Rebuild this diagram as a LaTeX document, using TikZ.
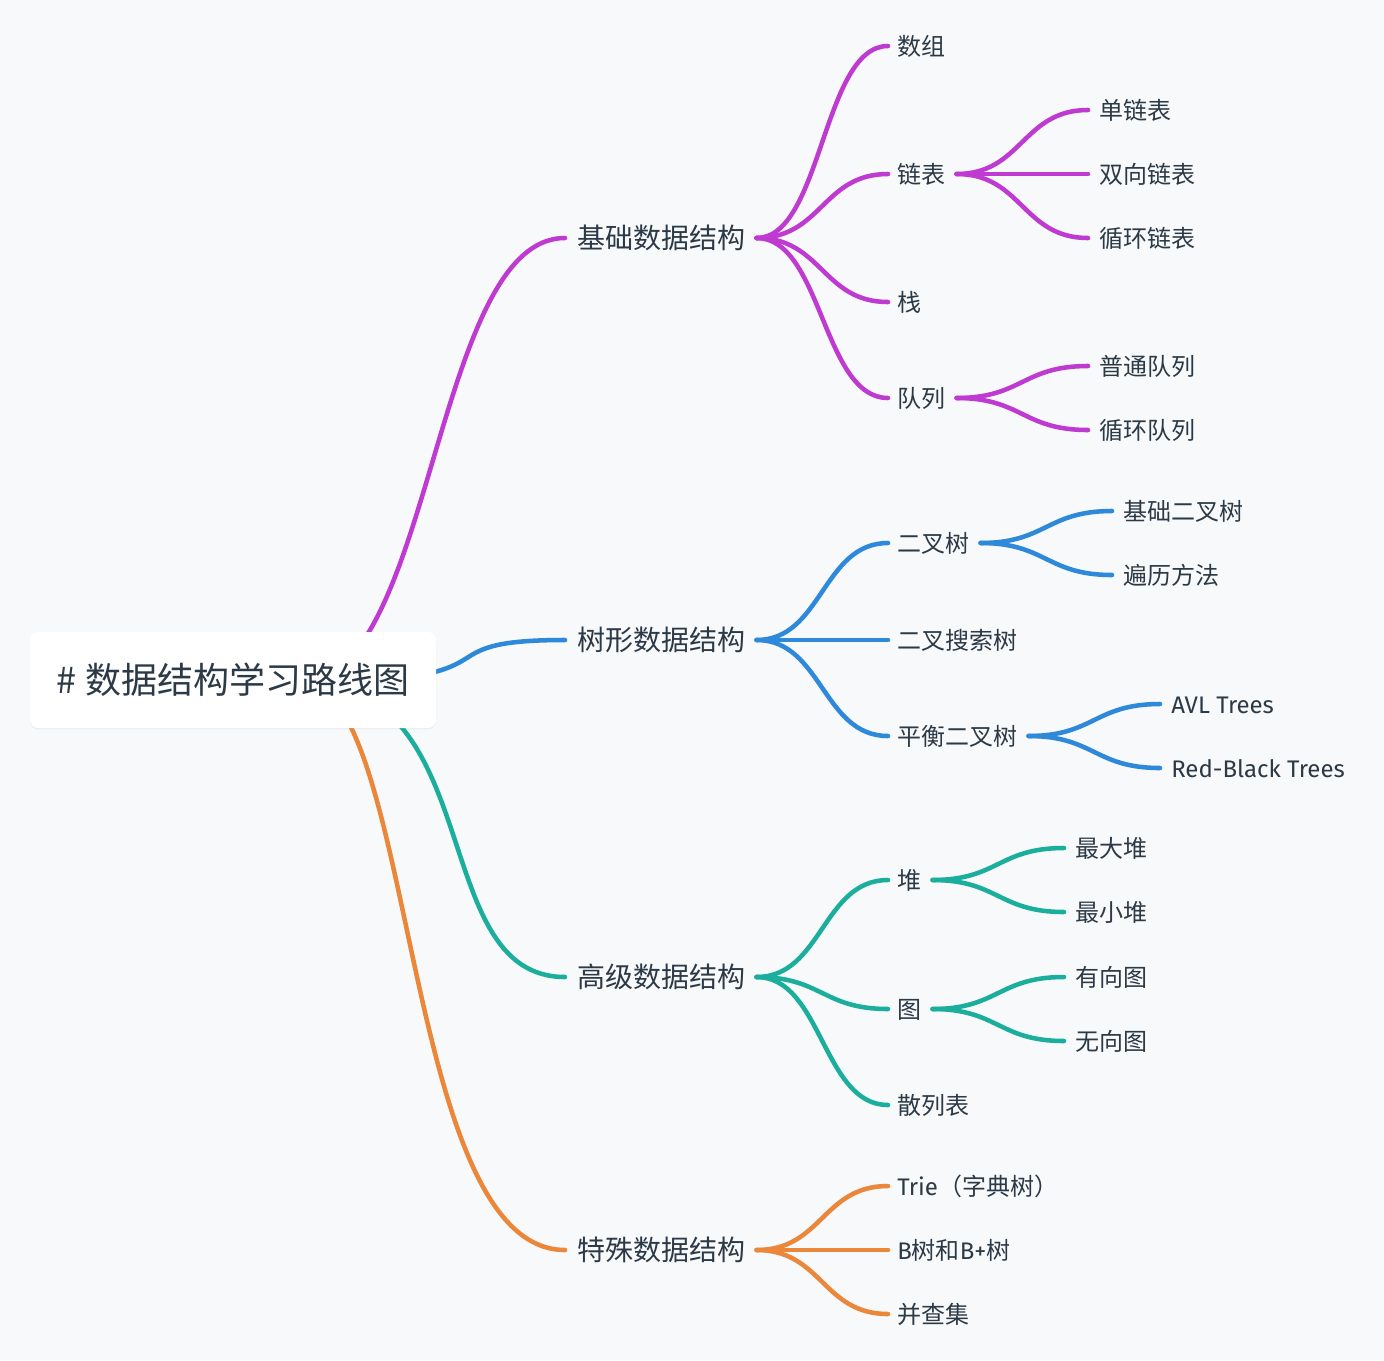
\documentclass[tikz,border=0pt]{standalone}
\usepackage{fontspec}
\setmainfont{Noto Sans CJK SC}
\newfontfamily\lat{Fira Sans}
\usetikzlibrary{shadows}
\definecolor{cp}{HTML}{BF3AD1}
\definecolor{cb}{HTML}{2E89DB}
\definecolor{ct}{HTML}{1BAE9D}
\definecolor{co}{HTML}{EA873B}
\definecolor{tx}{HTML}{2C3A47}
\definecolor{bg}{HTML}{F7F9FA}
\tikzset{
  lvone/.style={anchor=west, inner sep=0pt, text=tx, font=\fontsize{21}{21}\selectfont, text height=18.48pt, text depth=2.52pt},
  lvtwo/.style={anchor=west, inner sep=0pt, text=tx, font=\fontsize{18}{18}\selectfont, text height=15.84pt, text depth=2.16pt},
  rootbox/.style={fill=white, rounded corners=6pt, minimum width=304.5pt, minimum height=72pt, inner sep=0pt, text=tx,
    font=\fontsize{27}{27}\selectfont, text height=23.76pt, text depth=3.24pt,
    drop shadow={shadow xshift=0pt, shadow yshift=-1pt, opacity=0.05, fill=black}},
  link/.style={line width=3.4pt, line cap=round},
}
\newcommand{\lkone}[3]{\draw[link,#1] ([xshift=8.25pt]#2.east) .. controls +(65.5,0) and +(-65.5,0) .. ([xshift=-6.75pt]#3.west);}
\newcommand{\lktwo}[3]{\draw[link,#1] ([xshift=8.25pt]#2.east) .. controls +(65.5,0) and +(-65.5,0) .. ([xshift=-8.25pt]#3.west);}
\begin{document}
\begin{tikzpicture}[x=0.75pt,y=-0.75pt]
\fill[bg] (0,0) rectangle (1384,1360);
\useasboundingbox (0,0) rectangle (1384,1360);

% level 1
\node[lvone] (A) at (577,238) {基础数据结构};
\node[lvone] (B) at (577,640) {树形数据结构};
\node[lvone] (C) at (577,977) {高级数据结构};
\node[lvone] (D) at (577,1250) {特殊数据结构};

% level 2
\node[lvtwo] (a1) at (897,46) {数组};
\node[lvtwo] (a2) at (897,174) {链表};
\node[lvtwo] (a3) at (897,302) {栈};
\node[lvtwo] (a4) at (897,398) {队列};
\node[lvtwo] (b1) at (897,543) {二叉树};
\node[lvtwo] (b2) at (897,640) {二叉搜索树};
\node[lvtwo] (b3) at (897,736) {平衡二叉树};
\node[lvtwo] (c1) at (897,880) {堆};
\node[lvtwo] (c2) at (897,1009) {图};
\node[lvtwo] (c3) at (897,1105) {散列表};
\node[lvtwo] (d1) at (897,1186) {{\lat Trie}（字典树）};
\node[lvtwo] (d2) at (897,1250) {{\lat B}树和{\lat B+}树};
\node[lvtwo] (d3) at (897,1314) {并查集};

% level 3
\node[lvtwo] (a21) at (1099,110) {单链表};
\node[lvtwo] (a22) at (1099,174) {双向链表};
\node[lvtwo] (a23) at (1099,238) {循环链表};
\node[lvtwo] (a41) at (1099,366) {普通队列};
\node[lvtwo] (a42) at (1099,430) {循环队列};
\node[lvtwo] (b11) at (1123,511) {基础二叉树};
\node[lvtwo] (b12) at (1123,575) {遍历方法};
\node[lvtwo] (b31) at (1171,704) {\lat AVL Trees};
\node[lvtwo] (b32) at (1171,768) {\lat Red-Black Trees};
\node[lvtwo] (c11) at (1075,848) {最大堆};
\node[lvtwo] (c12) at (1075,912) {最小堆};
\node[lvtwo] (c21) at (1075,977) {有向图};
\node[lvtwo] (c22) at (1075,1041) {无向图};

% root branches (origin hidden under the root box)
\coordinate (o) at (301,682);
\draw[link,cp] (o) .. controls +(132,0) and +(-132,0) .. ([xshift=-9pt]A.west);
\draw[link,cb] (o) .. controls +(231,0) and +(-154,0) .. ([xshift=-9pt]B.west);
\draw[link,ct] (o) .. controls +(189,0) and +(-140,0) .. ([xshift=-9pt]C.west);
\draw[link,co] (o) .. controls +(116,0) and +(-165,0) .. ([xshift=-9pt]D.west);

% level 1 -> level 2
\lkone{cp}{A}{a1}\lkone{cp}{A}{a2}\lkone{cp}{A}{a3}\lkone{cp}{A}{a4}
\lkone{cb}{B}{b1}\lkone{cb}{B}{b2}\lkone{cb}{B}{b3}
\lkone{ct}{C}{c1}\lkone{ct}{C}{c2}\lkone{ct}{C}{c3}
\lkone{co}{D}{d1}\lkone{co}{D}{d2}\lkone{co}{D}{d3}

% level 2 -> level 3
\lktwo{cp}{a2}{a21}\lktwo{cp}{a2}{a22}\lktwo{cp}{a2}{a23}
\lktwo{cp}{a4}{a41}\lktwo{cp}{a4}{a42}
\lktwo{cb}{b1}{b11}\lktwo{cb}{b1}{b12}
\lktwo{cb}{b3}{b31}\lktwo{cb}{b3}{b32}
\lktwo{ct}{c1}{c11}\lktwo{ct}{c1}{c12}
\lktwo{ct}{c2}{c21}\lktwo{ct}{c2}{c22}

% root
\node[rootbox] (root) at (233,680) {\#\ 数据结构学习路线图};
\end{tikzpicture}
\end{document}
